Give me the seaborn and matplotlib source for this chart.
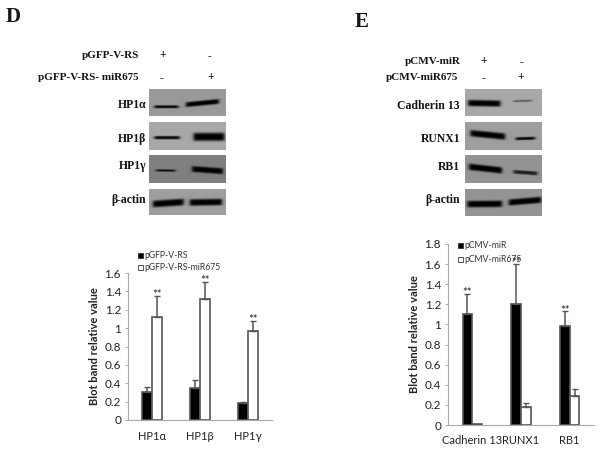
import numpy as np
import pandas as pd
import matplotlib
matplotlib.use('Agg')
import matplotlib.pyplot as plt
import seaborn as sns

sns.set_style('white')

W, H = 600, 451

# bar charts
genes_d = ['HP1α', 'HP1β', 'HP1γ']
ctrl_d = [0.31, 0.35, 0.18]
ctrl_d_err = [0.05, 0.08, 0.02]
mir_d = [1.12, 1.32, 0.97]
mir_d_err = [0.23, 0.18, 0.11]

genes_e = ['Cadherin 13', 'RUNX1', 'RB1']
ctrl_e = [1.10, 1.20, 0.98]
ctrl_e_err = [0.20, 0.40, 0.15]
mir_e = [0.01, 0.18, 0.29]
mir_e_err = [0.0, 0.04, 0.07]

# blots: (left, right, y left, y right, thickness, darkness), fractions of the panel
blot_labels_d = ['HP1α', 'HP1β', 'HP1γ', 'β-actin']
blot_bands_d = [
    [(.07, .38, .66, .66, .11, .95), (.48, .91, .58, .46, .19, 1.0)],
    [(.07, .40, .56, .56, .12, .95), (.58, .98, .53, .53, .30, 1.0)],
    [(.09, .34, .55, .56, .08, .90), (.56, .96, .50, .58, .22, 1.0)],
    [(.05, .45, .58, .50, .27, 1.0), (.53, .95, .52, .50, .26, 1.0)],
]
blot_grey_d = [.60, .66, .50, .62]

blot_labels_e = ['Cadherin 13', 'RUNX1', 'RB1', 'β-actin']
blot_bands_e = [
    [(.04, .46, .52, .54, .24, 1.0), (.63, .87, .45, .43, .08, .45)],
    [(.07, .52, .40, .52, .24, 1.0), (.66, .91, .60, .58, .11, .95)],
    [(.05, .48, .42, .55, .24, 1.0), (.63, .94, .60, .66, .14, .80)],
    [(.03, .48, .56, .55, .25, 1.0), (.57, .99, .50, .40, .24, 1.0)],
]
blot_grey_e = [.66, .62, .58, .58]


def px_axes(x0, y0, x1, y1):
    return fig.add_axes([x0 / W, 1 - y1 / H, (x1 - x0) / W, (y1 - y0) / H])


def draw_blot(x0, y0, x1, y1, bands, grey):
    ax = px_axes(x0, y0, x1, y1)
    nx, ny = int(x1 - x0) * 3, int(y1 - y0) * 3
    xx, yy = np.meshgrid(np.linspace(0, 1, nx), np.linspace(0, 1, ny))
    img = np.full((ny, nx), grey)
    for left, right, yl, yr, thick, dark in bands:
        mid = yl + (yr - yl) * (xx - left) / (right - left)
        across = np.exp(-(np.abs(yy - mid) / (thick / 2)) ** 4)
        along = (1 / (1 + np.exp((left - xx) / .012))) * (1 / (1 + np.exp((xx - right) / .012)))
        img = img * (1 - dark * across * along)
    ax.imshow(img, cmap='gray', vmin=0, vmax=1, aspect='auto', interpolation='bilinear')
    ax.axis('off')


def draw_bars(rect, genes, ctrl, ctrl_err, mir, mir_err, names, ymax, xlab_pad):
    ax = px_axes(*rect)
    df = pd.DataFrame({
        'gene': genes * 2,
        'value': ctrl + mir,
        'group': [names[0]] * 3 + [names[1]] * 3,
    })
    sns.barplot(data=df, x='gene', y='value', hue='group', ax=ax, width=0.4, gap=0,
                palette=['black', 'white'], edgecolor='#555555', linewidth=1.2,
                errorbar=None, legend=False)
    vals = ctrl + mir
    errs = ctrl_err + mir_err
    centers = [p.get_x() + p.get_width() / 2 for p in ax.patches[:6]]
    for cx, v, e in zip(centers, vals, errs):
        if e > 0:
            ax.errorbar(cx, v, yerr=[[0], [e]], color='#555555', elinewidth=1.1,
                        capsize=2.2, capthick=1, zorder=3)
    ax.set_xlim(-0.5, 2.5)
    ax.set_ylim(0, ymax)
    ax.set_yticks(np.arange(0, ymax + .01, .2))
    ax.set_yticklabels(['0', '0.2', '0.4', '0.6', '0.8', '1', '1.2', '1.4', '1.6', '1.8'][:int(round(ymax / .2)) + 1])
    ax.tick_params(axis='y', labelsize=8.5, length=2, width=.7, color='#aaaaaa', pad=3, left=True, labelcolor='#222222')
    ax.tick_params(axis='x', labelsize=8, length=0, pad=xlab_pad, labelcolor='#222222')
    ax.set_xlabel('')
    ax.set_ylabel('Blot band relative value', fontsize=8, fontweight='bold', labelpad=3, color='#222222')
    sns.despine(ax=ax)
    for s in ['left', 'bottom']:
        ax.spines[s].set_color('#aaaaaa')
        ax.spines[s].set_linewidth(.8)
    return ax, centers


def serif(x, y, s, size=8, ha='right'):
    fig.text(x / W, 1 - y / H, s, family='Liberation Serif', fontweight='bold',
             fontsize=size, ha=ha, va='center', color='#151515')


def sans_legend(x, y, s, black):
    fig.patches.append(plt.Rectangle((x / W, 1 - (y + 2.5) / H), 5 / W, 5 / H, transform=fig.transFigure,
                                     facecolor='black' if black else 'white', edgecolor='#333333', linewidth=.6))
    fig.text((x + 6.5) / W, 1 - y / H, s, fontsize=6.2, ha='left', va='center', color='#333333')


fig = plt.figure(figsize=(W / 100, H / 100), dpi=100)
plt.rcParams['font.family'] = ['Lato', 'DejaVu Sans']

# panel D
serif(6, 17, 'D', 15, 'left')
serif(139, 56, 'pGFP-V-RS')
serif(139, 78, 'pGFP-V-RS- miR675')
for xp, yp, s in [(163, 55, '+'), (210, 56, '-'), (161, 78, '-'), (211, 77, '+')]:
    serif(xp, yp, s, 8.5, 'center')
ys = [(89, 116), (122, 150), (155, 183), (189, 215)]
label_y_d = [105, 139, 166, 200]
for (y0, y1), bands, g, lab, ly in zip(ys, blot_bands_d, blot_grey_d, blot_labels_d, label_y_d):
    draw_blot(149, y0, 226, y1, bands, g)
    serif(146, ly, lab, 8.5)

# panel E
serif(355, 22, 'E', 15, 'left')
serif(461, 62, 'pCMV-miR')
serif(458, 78, 'pCMV-miR675')
for xp, yp, s in [(484, 61, '+'), (522, 62, '-'), (484, 78, '-'), (521, 77, '+')]:
    serif(xp, yp, s, 8.5, 'center')
label_y_e = [106, 139, 167, 200]
ys = [(89, 116), (122, 150), (155, 183), (189, 216)]
for (y0, y1), bands, g, lab, ly in zip(ys, blot_bands_e, blot_grey_e, blot_labels_e, label_y_e):
    draw_blot(465, y0, 542, y1, bands, g)
    serif(460, ly, lab, 8.5)

# bar charts
ax_d, cen_d = draw_bars((128, 273, 272, 420), genes_d, ctrl_d, ctrl_d_err, mir_d, mir_d_err,
                        ['pGFP-V-RS', 'pGFP-V-RS-miR675'], 1.6, 8)
ax_e, cen_e = draw_bars((448, 244, 594, 425), genes_e, ctrl_e, ctrl_e_err, mir_e, mir_e_err,
                        ['pCMV-miR', 'pCMV-miR675'], 1.8, 7)

for ax, cx, tops in [
    (ax_d, cen_d[3:], [m + e for m, e in zip(mir_d, mir_d_err)]),
    (ax_e, cen_e[:3], [m + e for m, e in zip(ctrl_e, ctrl_e_err)]),
]:
    for c, t in zip(cx, tops):
        ax.annotate('**', (c, t), xytext=(0, -3), textcoords='offset points', ha='center', va='bottom',
                    fontsize=8, color='#222222')

sans_legend(138, 255, 'pGFP-V-RS', True)
sans_legend(138, 267, 'pGFP-V-RS-miR675', False)
sans_legend(458, 245, 'pCMV-miR', True)
sans_legend(458, 259, 'pCMV-miR675', False)

fig.savefig('out.png', dpi=100)
